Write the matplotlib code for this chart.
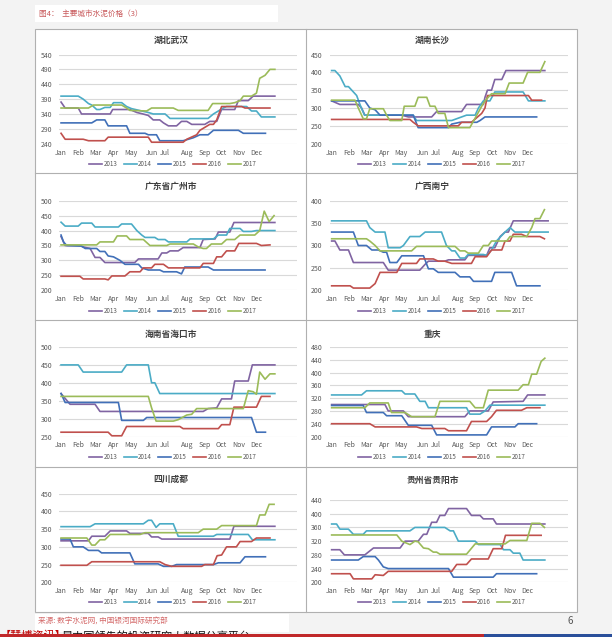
import matplotlib
matplotlib.use("Agg")
import matplotlib.pyplot as plt
from matplotlib.patches import Rectangle

plt.rcParams['font.family'] = ['Noto Sans CJK SC', 'DejaVu Sans']

# ---------------- data ----------------
YEARS = ['2013', '2014', '2015', '2016', '2017']
COLORS = ['#8064A2', '#4BACC6', '#4170B8', '#C0504D', '#9BBB59']
MONTHS = ['Jan', 'Feb', 'Mar', 'Apr', 'May', 'Jun', 'Jul', 'Aug', 'Sep', 'Oct', 'Nov', 'Dec']
MONTH_WEEK = [0, 4.2, 8.5, 12.8, 17, 22.3, 25.4, 30.8, 35, 39.2, 43.4, 47.7]

TITLES = ['湖北武汉', '湖南长沙', '广东省广州市', '广西南宁',
          '海南省海口市', '重庆', '四川成都', '贵州省贵阳市']
YTICKS = [
    [240, 290, 340, 390, 440, 490, 540],
    [200, 250, 300, 350, 400, 450],
    [200, 250, 300, 350, 400, 450, 500],
    [200, 250, 300, 350, 400],
    [250, 300, 350, 400, 450, 500],
    [200, 240, 280, 320, 360, 400, 440, 480],
    [200, 250, 300, 350, 400, 450],
    [200, 240, 280, 320, 360, 400, 440],
]

# (week index, price) vertices for each year
WUHAN = {
    '2013': ([0, 1, 4.2, 5, 12, 12.6, 16.8, 18.5, 20, 21.3, 22.5, 24.1, 25, 26.2, 28.2, 29.4, 30.7, 31.9, 35.1, 36.3, 38, 39.2, 42.4, 43.3, 45.7, 46.9, 52.2],
             [380, 360, 360, 340, 340, 355, 355, 345, 340, 335, 320, 320, 310, 300, 300, 315, 315, 305, 305, 315, 315, 355, 355, 385, 385, 400, 400]),
    '2014': ([0, 4.2, 5.4, 6.7, 7.5, 8.7, 9.5, 10.7, 12, 12.8, 14.8, 16, 17.2, 19.7, 21.3, 22.5, 25.4, 26.6, 35.9, 37.2, 38.4, 39.6, 40.4, 45.3, 46.5, 47.7, 48.9, 52.2],
             [400, 400, 390, 375, 370, 355, 355, 362, 362, 378, 378, 365, 358, 350, 345, 340, 340, 325, 325, 340, 350, 360, 365, 365, 350, 350, 330, 330]),
    '2015': ([0, 7.5, 8.7, 10.7, 11.5, 16, 16.8, 20.5, 21.3, 23.3, 24.1, 29.8, 31.1, 32.3, 33.1, 33.9, 35.9, 37.2, 43.3, 44.5, 49.9],
             [310, 310, 320, 320, 300, 300, 275, 275, 270, 270, 250, 250, 255, 260, 265, 270, 270, 285, 285, 275, 275]),
    '2016': ([0, 1, 5.4, 6.7, 10.7, 11.5, 21.3, 22.1, 29.8, 30.7, 32.3, 33.1, 33.9, 35.1, 36.3, 37.2, 38, 39.2, 44.1, 44.9, 51],
             [275, 255, 255, 250, 250, 262, 262, 245, 245, 255, 265, 270, 285, 295, 305, 305, 320, 365, 365, 360, 360]),
    '2017': ([0, 6.7, 7.9, 14.8, 16, 16.8, 20.9, 22.1, 27.4, 28.6, 35.9, 37, 41.2, 42.4, 43.7, 44.5, 46.5, 47.7, 48.5, 49.8, 51, 52.2],
             [360, 360, 370, 370, 360, 352, 350, 360, 360, 352, 352, 375, 375, 378, 385, 400, 400, 410, 460, 470, 490, 490]),
}
CHANGSHA = {
    '2013': ([0, 2, 6.5, 7.3, 8.1, 17.1, 18.7, 24.4, 25.6, 31.7, 32.9, 37, 37.4, 38, 39, 39.8, 41.5, 42.5, 52],
             [320, 310, 310, 300, 280, 280, 275, 275, 290, 290, 310, 310, 330, 350, 350, 380, 380, 405, 405]),
    '2014': ([0, 0.8, 2, 3.3, 4.1, 5.3, 6.1, 6.9, 8, 19.9, 20.7, 29.3, 30.5, 32.9, 35, 35.8, 37, 38.6, 39.8, 46.7, 48, 52],
             [405, 405, 390, 360, 360, 345, 335, 310, 280, 280, 265, 265, 270, 280, 280, 300, 320, 320, 345, 345, 320, 320]),
    '2015': ([0, 8.1, 9.3, 10.6, 11.8, 19.9, 21.1, 28.5, 29.3, 31.3, 35.4, 36.2, 37.4, 50],
             [320, 320, 300, 295, 280, 280, 245, 245, 255, 260, 260, 265, 275, 275]),
    '2016': ([0, 19.1, 19.9, 21.1, 30.9, 31.7, 34.1, 36.6, 37.4, 38, 48, 48.8, 51.2],
             [268, 268, 260, 250, 250, 260, 260, 285, 300, 335, 335, 322, 322]),
    '2017': ([0, 5.7, 6.5, 7.7, 8.5, 9.3, 12.6, 13.4, 14.2, 17.1, 17.7, 20.3, 21.1, 23.2, 24, 25.2, 26, 27.6, 28.5, 33.7, 35.4, 36.6, 37.4, 39, 42.3, 43.3, 46.7, 47.8, 50.8, 52],
             [322, 322, 300, 270, 270, 298, 298, 280, 265, 265, 305, 305, 330, 330, 305, 305, 285, 285, 245, 245, 280, 305, 320, 340, 340, 370, 370, 400, 400, 430]),
}
GUANGZHOU = {
    '2013': ([0, 1, 4.6, 5.4, 7.1, 8.3, 9.5, 10.7, 18, 18.9, 23.7, 24.6, 25.8, 26.6, 28.6, 29.8, 33.9, 34.7, 37.6, 38.4, 41.2, 42.2, 52.2],
             [380, 350, 350, 345, 340, 310, 310, 293, 293, 305, 305, 325, 325, 332, 332, 343, 343, 370, 372, 395, 395, 427, 427]),
    '2014': ([0, 1, 4.2, 5, 7.5, 8.3, 14, 14.8, 17.2, 18.5, 19.7, 20.5, 22.9, 23.7, 25.4, 26.2, 30.7, 31.5, 37.2, 38.4, 40.4, 41.2, 43.7, 44.5, 46.5, 47.7, 52.2],
             [428, 415, 415, 425, 425, 412, 412, 422, 422, 400, 385, 377, 377, 370, 370, 362, 362, 372, 372, 385, 385, 407, 407, 397, 397, 400, 400]),
    '2015': ([0, 0.6, 1.4, 5, 5.9, 8.7, 9.5, 10.7, 11.5, 12.8, 14.4, 15.6, 18.9, 19.7, 21.3, 24.1, 25, 28.2, 29.4, 30.2, 35.9, 37.2, 49.8],
             [385, 362, 350, 348, 340, 340, 330, 330, 315, 312, 300, 287, 287, 275, 268, 268, 262, 262, 255, 278, 278, 268, 268]),
    '2016': ([0, 4.6, 5.4, 10.7, 11.5, 12.4, 15.6, 16.8, 19.3, 20.1, 22.1, 22.9, 25, 26.2, 33.9, 34.7, 37.2, 38, 39.2, 40.4, 42.4, 43.4, 47.7, 48.9, 51],
             [247, 247, 238, 238, 235, 248, 248, 262, 262, 275, 275, 287, 287, 275, 275, 290, 290, 312, 312, 332, 332, 357, 357, 350, 352]),
    '2017': ([0, 8.7, 9.5, 12.8, 13.7, 16, 16.8, 20.1, 21.7, 25.8, 26.6, 32.3, 33.5, 34.7, 35.5, 36.7, 39.2, 40.4, 42.4, 43.7, 47.3, 48.5, 49.6, 50.8, 52],
             [352, 352, 362, 362, 382, 382, 370, 370, 350, 350, 355, 355, 345, 340, 340, 355, 355, 370, 370, 385, 385, 400, 465, 430, 450]),
}
NANNING = {
    '2013': ([0, 0.8, 2, 4.1, 5.3, 12.6, 13.8, 21.5, 22.8, 23.6, 27.6, 28.5, 32.5, 33.3, 37.8, 38.6, 39.8, 41.1, 42.3, 43.1, 44.3, 52.8],
             [310, 310, 290, 290, 262, 262, 245, 245, 258, 265, 265, 268, 268, 278, 278, 295, 295, 320, 330, 330, 355, 355]),
    '2014': ([0, 8.5, 9.3, 10.6, 13, 13.8, 16.7, 17.5, 19.1, 21.5, 22.8, 26.8, 28, 29.3, 30.1, 31.3, 32.5, 33.3, 37, 37.8, 39, 40.2, 42.3, 43.5, 44.7, 52.8],
             [355, 355, 340, 330, 330, 295, 295, 300, 320, 320, 330, 330, 300, 288, 288, 272, 272, 280, 280, 278, 290, 310, 330, 340, 330, 330]),
    '2015': ([0, 5.3, 6.5, 8.5, 9.8, 11.4, 12.6, 13.4, 14.2, 15.9, 17.1, 22.4, 23.6, 24.8, 26, 30.1, 31.3, 33.7, 34.6, 39, 39.8, 43.9, 45.1, 50.8],
             [330, 330, 300, 300, 290, 290, 285, 285, 262, 262, 277, 277, 248, 248, 240, 240, 230, 230, 220, 220, 240, 240, 210, 210]),
    '2016': ([0, 4.5, 5.3, 9.3, 10.6, 11.8, 15.9, 17.1, 20.7, 21.5, 24.8, 26, 27.6, 29.3, 34.1, 35, 37.8, 39, 41.5, 42.3, 43.5, 44.3, 46.3, 47.6, 50.8, 51.9],
             [210, 210, 205, 205, 215, 240, 240, 260, 260, 270, 270, 265, 265, 260, 260, 275, 275, 290, 290, 310, 310, 325, 325, 320, 320, 315]),
    '2017': ([0, 8.5, 9.3, 10.6, 11.8, 19.5, 20.7, 30.1, 31.3, 32.5, 33.3, 35.8, 37, 38.2, 39, 42.7, 43.5, 47.6, 48.8, 49.6, 50.8, 51.9],
             [315, 315, 310, 300, 288, 288, 298, 298, 288, 288, 283, 283, 300, 300, 310, 310, 320, 320, 340, 360, 360, 380]),
}
HAIKOU = {
    '2013': ([0, 2.2, 8.3, 9.5, 34.7, 35.9, 38, 39.2, 41.6, 42.4, 45.7, 46.7, 52.2],
             [370, 340, 340, 320, 320, 328, 330, 355, 355, 405, 405, 450, 450]),
    '2014': ([0, 4.2, 5.4, 14.8, 16, 21.3, 22.1, 22.9, 24.1, 52.2],
             [450, 450, 430, 430, 450, 450, 400, 400, 370, 370]),
    '2015': ([0, 1, 14, 14.8, 20.1, 20.9, 46.5, 47.7, 49.9],
             [370, 345, 345, 295, 295, 303, 303, 262, 262]),
    '2016': ([0, 11.5, 12.4, 14.8, 16, 29, 29.8, 38.4, 39.2, 41.2, 42.2, 47.7, 48.9, 51],
             [262, 262, 252, 252, 278, 278, 272, 272, 283, 283, 332, 332, 362, 362]),
    '2017': ([0, 21.3, 22.1, 23.2, 27.4, 28.6, 30.7, 31.9, 33.1, 44.5, 45.7, 46.9, 47.7, 48.5, 49.8, 51, 52.2],
             [362, 362, 330, 293, 293, 297, 310, 312, 328, 328, 378, 375, 368, 430, 410, 425, 425]),
}
CHONGQING = {
    '2013': ([0, 13, 13.8, 17.5, 18.7, 32.5, 33.7, 38.2, 39.4, 46.7, 47.8, 52],
             [300, 300, 280, 280, 262, 262, 280, 280, 308, 310, 330, 330]),
    '2014': ([0, 7.3, 8.5, 17.1, 17.9, 20.3, 21.5, 22.8, 23.6, 32.9, 33.7, 36.2, 37.4, 38.6, 52],
             [330, 330, 343, 343, 333, 333, 310, 310, 290, 290, 270, 270, 280, 298, 298]),
    '2015': ([0, 7.7, 8.5, 12.6, 13.4, 17.1, 18.7, 24.4, 25.6, 37.8, 39, 44.7, 45.5, 50],
             [297, 297, 275, 275, 265, 265, 235, 235, 205, 205, 230, 230, 240, 240]),
    '2016': ([0, 9.3, 10.6, 20.7, 22, 27.6, 28.5, 32.9, 34.1, 37.8, 39, 40.2, 46.3, 47.6, 50.8],
             [240, 240, 230, 230, 225, 225, 218, 218, 247, 247, 262, 282, 282, 290, 290]),
    '2017': ([0, 8.1, 9.3, 13.8, 14.6, 17.9, 19.5, 25.2, 26.4, 33.7, 35, 37, 38.2, 45.5, 46.7, 48, 48.8, 50, 51.1, 52],
             [290, 290, 305, 305, 275, 275, 262, 262, 310, 310, 290, 290, 345, 345, 362, 362, 395, 395, 435, 445]),
}
CHENGDU = {
    '2013': ([0, 6.7, 7.5, 10.7, 12, 16, 16.8, 21.3, 22.1, 23.7, 24.6, 41.2, 42.2, 52.2],
             [317, 317, 330, 330, 345, 345, 338, 338, 328, 328, 322, 322, 358, 358]),
    '2014': ([0, 7.1, 8.3, 20.1, 21.3, 22.1, 23.2, 24.1, 27.4, 28.6, 37.2, 38, 45.7, 46.7, 52.2],
             [357, 357, 365, 365, 375, 375, 355, 365, 365, 330, 330, 335, 335, 320, 320]),
    '2015': ([0, 2.2, 3, 5.4, 6.7, 9.1, 9.9, 16.8, 18, 23.7, 25, 27, 28.2, 37.2, 38.4, 43.7, 44.9, 49.9],
             [322, 322, 300, 300, 290, 290, 283, 283, 252, 252, 245, 245, 250, 250, 255, 255, 272, 272]),
    '2016': ([0, 6.3, 7.5, 24.1, 25.4, 27, 34.3, 35.1, 37.2, 38.1, 39.2, 40.4, 42.8, 43.7, 46.5, 47.7, 51],
             [248, 248, 258, 258, 250, 245, 245, 250, 250, 275, 277, 300, 300, 315, 315, 325, 325]),
    '2017': ([0, 6.3, 7.5, 8.3, 9.5, 10.7, 12, 19.3, 20.5, 33.5, 34.7, 38, 39.2, 47.7, 48.5, 49.8, 50.8, 52],
             [325, 325, 305, 305, 320, 320, 335, 335, 340, 340, 350, 350, 360, 360, 390, 390, 420, 420]),
}
GUIYANG = {
    '2013': ([0, 2, 3.1, 8.1, 10.2, 16.7, 17.9, 21.1, 22.4, 23.2, 24.4, 25.6, 26.4, 27.6, 28.5, 32.9, 34.1, 36.2, 37, 39.4, 40.2, 52],
             [295, 295, 280, 280, 300, 300, 320, 320, 340, 340, 375, 375, 395, 395, 415, 415, 395, 395, 385, 385, 370, 370]),
    '2014': ([0, 1.2, 2, 4.1, 5.3, 7.7, 8.5, 19.1, 20.3, 27.6, 28.9, 29.7, 30.9, 35, 35.8, 41.1, 41.9, 43.5, 44.3, 45.9, 46.7, 52],
             [370, 370, 355, 355, 340, 340, 350, 350, 360, 360, 350, 350, 320, 320, 310, 310, 295, 295, 285, 285, 265, 265]),
    '2015': ([0, 6.5, 7.7, 10.6, 11.4, 12.6, 13.8, 28.5, 29.7, 39.4, 40.2, 50],
             [265, 265, 275, 275, 265, 245, 240, 240, 215, 215, 225, 225]),
    '2016': ([0, 4.5, 5.3, 9.8, 10.6, 12.6, 13.8, 29.3, 30.5, 32.9, 34.1, 38.2, 39.4, 41.5, 42.4, 51.1],
             [225, 225, 210, 210, 222, 220, 232, 232, 252, 252, 268, 268, 298, 298, 337, 337]),
    '2017': ([0, 15.9, 17.1, 19.1, 20.3, 21.1, 22.4, 23.6, 24.8, 25.6, 26.4, 32.9, 35, 42.3, 43.5, 47.6, 48.8, 50.8, 51.9],
             [338, 338, 320, 310, 320, 318, 300, 298, 288, 288, 282, 282, 312, 312, 322, 322, 372, 372, 360]),
}
PANEL_DATA = [WUHAN, CHANGSHA, GUANGZHOU, NANNING, HAIKOU, CHONGQING, CHENGDU, GUIYANG]

# ---------------- layout (pixels) ----------------
W, H = 612, 637
fig = plt.figure(figsize=(W / 100, H / 100), dpi=100)
fig.patch.set_facecolor('#f3f3f3')


def fx(x):
    return x / W


def fy(y):
    return 1 - y / H


def rect(x0, y0, x1, y1, fc, ec='none', lw=0.0, z=-5):
    fig.patches.append(Rectangle((fx(x0), fy(y1)), fx(x1) - fx(x0), fy(y0) - fy(y1),
                                 transform=fig.transFigure, facecolor=fc, edgecolor=ec,
                                 linewidth=lw, zorder=z))


# white boxes
rect(35, 5, 278, 22, 'white')
rect(35, 28.7, 576.7, 612, 'white', ec='#b0b0b0', lw=0.8)
rect(35, 614, 289, 632, 'white')
# panel separators
fig.lines.append(plt.Line2D([fx(305.5), fx(305.5)], [fy(28.7), fy(612)],
                            transform=fig.transFigure, color='#b0b0b0', lw=0.8, zorder=-4))
for ys in [173.5, 319.7, 466.5]:
    fig.lines.append(plt.Line2D([fx(35), fx(576.7)], [fy(ys), fy(ys)],
                                transform=fig.transFigure, color='#b0b0b0', lw=0.8, zorder=-4))

fig.text(fx(39), fy(14), '图4：  主要城市水泥价格（3）', fontsize=5.5, color='#c8585a',
         ha='left', va='center')
fig.text(fx(38), fy(621), '来源: 数字水泥网, 中国银河国际研究部', fontsize=5.5, color='#d46a6a',
         ha='left', va='center')
fig.text(fx(570), fy(621), '6', fontsize=7, color='#555555', ha='center', va='center')

# bottom bar and clipped banner text (cut off at the page edge as in the source)
rect(0, 634, 484, 637, '#c0282a', z=3)
rect(484, 634, 612, 637, '#2a4f9a', z=3)
fig.text(fx(0), fy(630.5), '【慧博资讯】', fontsize=8, color='#c00000', ha='left', va='top', zorder=1)
fig.text(fx(62), fy(630.5), '是中国领先的投资研究大数据分享平台', fontsize=8, color='#111111',
         ha='left', va='top', zorder=1)

COLS = [(59.0, 297.0), (329.6, 567.8)]
ROWS = [(54.5, 143.7), (200.7, 290.3), (347.0, 436.5), (493.7, 582.3)]
TITLE_X = [171, 432.5]
TITLE_Y = [40, 186.7, 334.7, 479]
LEG_Y = [164.3, 310.7, 457.2, 602.3]
LEG_X = [172.5, 442]

for i in range(8):
    r, c = divmod(i, 2)
    x0, x1 = COLS[c]
    y0, y1 = ROWS[r]
    if i == 7:
        y0 = 500.0
    ax = fig.add_axes([fx(x0), fy(y1), fx(x1) - fx(x0), fy(y0) - fy(y1)], zorder=2)
    ax.set_facecolor('none')
    data = PANEL_DATA[i]
    for yr, col in zip(YEARS, COLORS):
        wk, val = data[yr]
        ax.plot(wk, val, color=col, lw=1.2, label=yr, solid_joinstyle='round')
    yt = YTICKS[i]
    ax.set_ylim(yt[0], yt[-1])
    ax.set_yticks(yt)
    ax.set_xlim(-0.5, 57.6)
    ax.set_xticks(MONTH_WEEK)
    ax.set_xticklabels(MONTHS)
    for s in ax.spines.values():
        s.set_visible(False)
    ax.grid(axis='y', color='#d9d9d9', lw=0.8)
    ax.set_axisbelow(True)
    ax.tick_params(length=0, labelsize=5, colors='#595959')
    ax.tick_params(axis='y', pad=5)
    ax.tick_params(axis='x', pad=3.5)
    ty = TITLE_Y[r] + (1.7 if i == 7 else 0)
    fig.text(fx(TITLE_X[c]), fy(ty), TITLES[i], fontsize=6.3, fontweight='bold',
             color='#404040', ha='center', va='center')
    ax.legend(loc='center', bbox_to_anchor=(fx(LEG_X[c]), fy(LEG_Y[r])),
              bbox_transform=fig.transFigure, ncol=5, frameon=False, fontsize=4.5,
              handlelength=2.1, handletextpad=0.25, columnspacing=1.0,
              labelcolor='#595959', borderpad=0)

fig.savefig('out.png', dpi=100, facecolor=fig.get_facecolor())
